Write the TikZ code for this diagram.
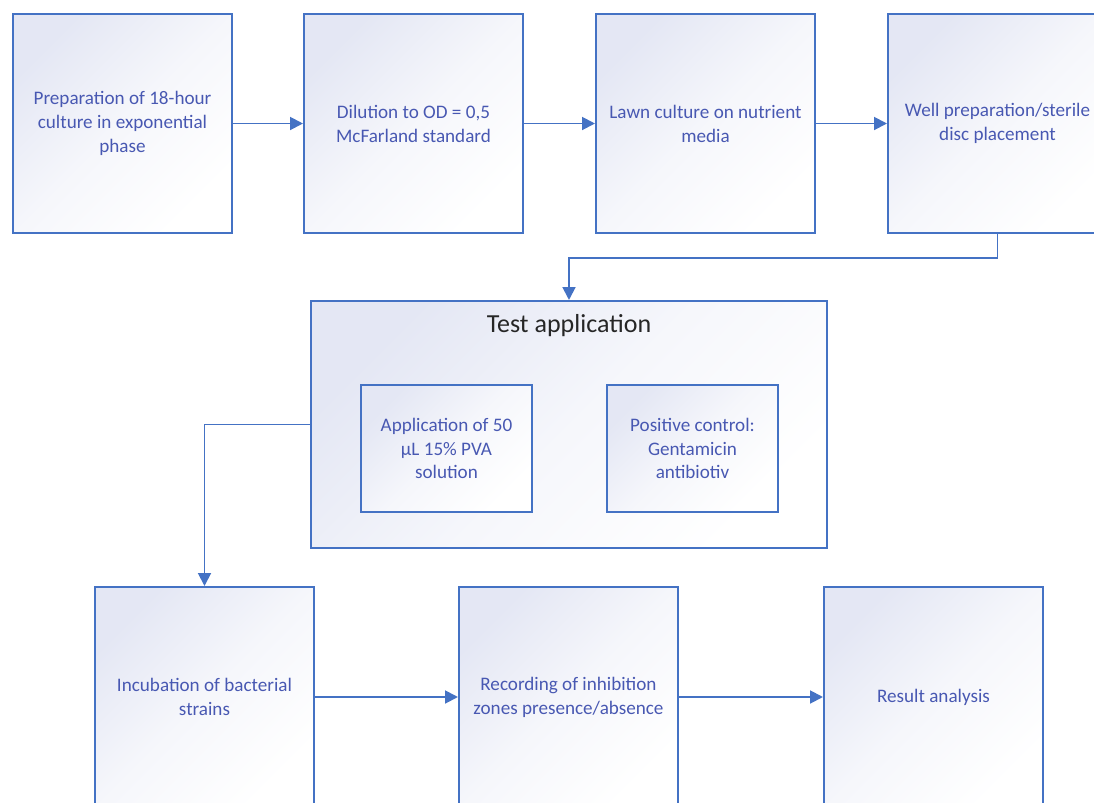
\documentclass[tikz,border=0pt]{standalone}
\usepackage{fontspec}
\setmainfont{Carlito}
\usetikzlibrary{arrows.meta}

\definecolor{stepline}{RGB}{68,114,196}
\definecolor{steptext}{RGB}{72,88,178}
\definecolor{stepfill}{RGB}{228,231,244}

\begin{document}
\begin{tikzpicture}[x=0.025cm, y=-0.025cm,
    stepbox/.style={draw=stepline, line width=1.4pt, top color=stepfill, bottom color=white,
      middle color=stepfill!35, shading angle=45, minimum width=5.475cm, minimum height=5.475cm,
      align=center, text=steptext, font=\fontsize{13.6}{17}\selectfont},
    lowbox/.style={stepbox, minimum height=5.5cm},
    innerbox/.style={stepbox, minimum width=4.275cm, minimum height=3.175cm},
    flow/.style={draw=stepline, line width=1.4pt, -{Triangle[length=0.32cm,width=0.32cm]}}]
\useasboundingbox (0,0) rectangle (1094,803);
\clip (0,0) rectangle (1094,803);

% top row
\node[stepbox] (prep) at (122.5,123.5) {Preparation of 18-hour\\culture in exponential\\phase};
\node[stepbox] (dilut) at (413.5,123.5) {Dilution to OD = 0,5\\McFarland standard};
\node[stepbox] (lawn) at (705.5,123.5) {Lawn culture on nutrient\\media};
\node[stepbox] (well) at (997.5,123.5) {Well preparation/sterile\\disc placement};

% test application group
\node[stepbox, minimum width=12.9cm, minimum height=6.175cm] (test) at (569,424.5) {};
\node[font=\fontsize{18.5}{22}\selectfont, text=black!85] (testtitle) at (569,326) {Test application};
\node[innerbox] (pva) at (446.5,448.5) {Application of 50\\µL 15\% PVA\\solution};
\node[innerbox] (genta) at (692.5,448.5) {Positive control:\\Gentamicin\\antibiotiv};

% bottom row
\node[lowbox] (incub) at (204.5,697) {Incubation of bacterial\\strains};
\node[lowbox] (record) at (568.5,697) {Recording of inhibition\\zones presence/absence};
\node[lowbox] (result) at (933.5,697) {Result analysis};

\draw[flow] (prep) -- (dilut);
\draw[flow] (dilut) -- (lawn);
\draw[flow] (lawn) -- (well);
\draw[flow] (well.south) -- ++(0,24) -| (test.north);
\draw[flow] (test.west) -| (incub.north);
\draw[flow] (incub) -- (record);
\draw[flow] (record) -- (result);
\end{tikzpicture}
\end{document}
